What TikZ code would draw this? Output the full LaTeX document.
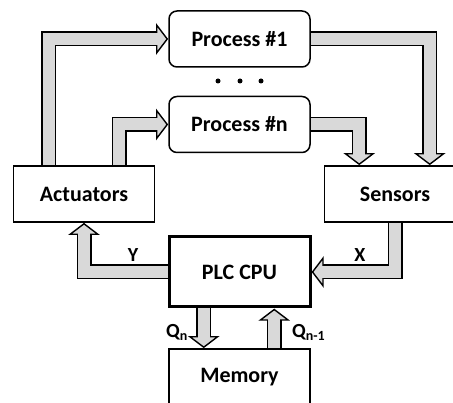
\documentclass[tikz,border=0pt]{standalone}
\usepackage{fontspec}
\setmainfont{Carlito}
\usetikzlibrary{positioning,calc}
\definecolor{arrowgray}{HTML}{D9D9D9}

\tikzset{
  box/.style={draw, line width=1.5pt, fill=white, minimum width=141pt, minimum height=56pt, font=\fontsize{22}{26}\selectfont\bfseries},
  procbox/.style={box, rounded corners=8pt},
  cpubox/.style={box, line width=3pt, minimum height=70pt},
  lbl/.style={font=\fontsize{20}{24}\selectfont\bfseries, inner sep=0pt},
  fat/.style={draw=arrowgray, line width=12pt, preaction={draw=black, line width=15pt}},
  fathead/.pic={
    \filldraw[fill=arrowgray, draw=black, line width=1.4pt] (-11.5,13.8) -- (-1,0) -- (-11.5,-13.8) -- cycle;
    \fill[arrowgray] (-13,-6) rectangle (-10,6);
  }
}

\begin{document}
\begin{tikzpicture}[x=1pt, y=-1pt]
\useasboundingbox (0,0) rectangle (453,403);
\clip (0,0) rectangle (453,403);
% blocks
\node[procbox] (p1) at (239.5,39) {Process \#1};
\node[procbox] (pn) at (239.5,124.5) {Process \#n};
\node[box] (act) at (84,194) {Actuators};
\node[box] (sen) at (395,194) {Sensors};
\node[cpubox] (plc) at (239.5,272) {PLC CPU};
\node[box] (mem) at (239.5,377) {Memory};
\fill (218,81) circle (2.5pt) (240,81) circle (2.5pt) (261,81) circle (2.5pt);
% actuators to processes
\coordinate (a1) at ([xshift=36pt]act.north west);
\draw[fat] (a1) |- ([xshift=-11.5pt]p1.west);
\pic at (p1.west) {fathead};
\coordinate (a2) at ([xshift=106.5pt]act.north west);
\draw[fat] (a2) |- ([xshift=-11.5pt]pn.west);
\pic at (pn.west) {fathead};
% processes to sensors
\coordinate (s1) at ([xshift=106pt]sen.north west);
\draw[fat] (p1.east) -| ([yshift=11.5pt]s1);
\pic[rotate=-90] at (s1) {fathead};
\coordinate (s2) at ([xshift=35.5pt]sen.north west);
\draw[fat] (pn.east) -| ([yshift=11.5pt]s2);
\pic[rotate=-90] at (s2) {fathead};
% sensors -> cpu -> actuators
\draw[fat] (sen.south) |- ([xshift=11.5pt]plc.east);
\pic[rotate=180] at (plc.east) {fathead};
\draw[fat] (plc.west) -| ([yshift=-11.5pt]act.south);
\pic[rotate=90] at (act.south) {fathead};
% cpu and memory
\coordinate (m1) at ([xshift=35.5pt]mem.north west);
\coordinate (c1) at (plc.south -| m1);
\draw[fat] (c1) -- ([yshift=11.5pt]m1);
\pic[rotate=-90] at (m1) {fathead};
\coordinate (m2) at ([xshift=106pt]mem.north west);
\coordinate (c2) at (plc.south -| m2);
\draw[fat] (m2) -- ([yshift=-11.5pt]c2);
\pic[rotate=90] at (c2) {fathead};
% labels
\node[lbl] (ly) at (133,255) {Y};
\node[lbl] (lx) at (360,255) {X};
\node[lbl, anchor=east] (lqn) at (188,332) {Q\textsubscript{n}};
\node[lbl, anchor=west] (lqp) at (292,332) {Q\textsubscript{n-1}};
\end{tikzpicture}
\end{document}
